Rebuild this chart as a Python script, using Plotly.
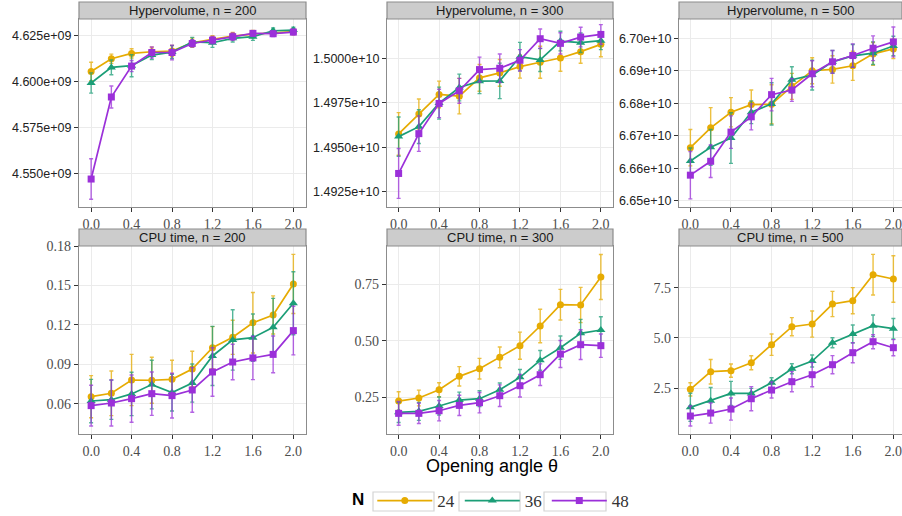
import plotly.graph_objects as go

theta = [0.0, 0.2, 0.4, 0.6, 0.8, 1.0, 1.2, 1.4, 1.6, 1.8, 2.0]
groups = ["24", "36", "48"]

# Hypervolume, n = 200
hv200_24 = [4.6056e9, 4.6125e9, 4.6154e9, 4.6163e9, 4.6167e9, 4.6212e9, 4.6230e9, 4.6248e9, 4.6259e9, 4.6265e9, 4.6272e9]
hv200_36 = [4.5993e9, 4.6078e9, 4.6087e9, 4.6145e9, 4.6161e9, 4.6216e9, 4.6212e9, 4.6236e9, 4.6245e9, 4.6277e9, 4.6281e9]
hv200_48 = [4.5471e9, 4.5917e9, 4.6085e9, 4.6159e9, 4.6159e9, 4.6208e9, 4.6226e9, 4.6245e9, 4.6263e9, 4.6261e9, 4.6270e9]
hv200_24_err = [0.0050e9, 0.0025e9, 0.0025e9, 0.0025e9, 0.0030e9, 0.0025e9, 0.0020e9, 0.0020e9, 0.0020e9, 0.0015e9, 0.0015e9]
hv200_36_err = [0.0055e9, 0.0040e9, 0.0060e9, 0.0025e9, 0.0035e9, 0.0025e9, 0.0025e9, 0.0020e9, 0.0020e9, 0.0015e9, 0.0015e9]
hv200_48_err = [0.0110e9, 0.0060e9, 0.0030e9, 0.0030e9, 0.0040e9, 0.0020e9, 0.0020e9, 0.0020e9, 0.0015e9, 0.0015e9, 0.0015e9]

# Hypervolume, n = 300
hv300_24 = [1.495746e10, 1.496866e10, 1.497966e10, 1.497873e10, 1.498899e10, 1.499179e10, 1.499534e10, 1.499776e10, 1.500019e10, 1.500373e10, 1.500784e10]
hv300_36 = [1.495597e10, 1.496157e10, 1.497481e10, 1.498358e10, 1.498713e10, 1.498731e10, 1.500093e10, 1.499907e10, 1.500970e10, 1.500877e10, 1.500989e10]
hv300_48 = [1.493526e10, 1.495765e10, 1.497463e10, 1.498172e10, 1.499366e10, 1.499440e10, 1.499888e10, 1.501101e10, 1.500840e10, 1.501194e10, 1.501343e10]
hv300_24_err = [0.00120e10, 0.00085e10, 0.00075e10, 0.00100e10, 0.00075e10, 0.00075e10, 0.00065e10, 0.00090e10, 0.00075e10, 0.00065e10, 0.00070e10]
hv300_36_err = [0.00110e10, 0.00095e10, 0.00090e10, 0.00075e10, 0.00070e10, 0.00100e10, 0.00080e10, 0.00065e10, 0.00055e10, 0.00055e10, 0.00050e10]
hv300_48_err = [0.00140e10, 0.00100e10, 0.00080e10, 0.00070e10, 0.00070e10, 0.00080e10, 0.00060e10, 0.00055e10, 0.00060e10, 0.00055e10, 0.00055e10]

# Hypervolume, n = 500
hv500_24 = [6.66633e10, 6.67245e10, 6.67724e10, 6.67959e10, 6.67969e10, 6.68520e10, 6.69000e10, 6.69041e10, 6.69153e10, 6.69520e10, 6.69673e10]
hv500_36 = [6.66224e10, 6.66643e10, 6.66929e10, 6.67724e10, 6.67980e10, 6.68724e10, 6.68867e10, 6.69276e10, 6.69459e10, 6.69541e10, 6.69765e10]
hv500_48 = [6.65786e10, 6.66214e10, 6.67112e10, 6.67582e10, 6.68265e10, 6.68408e10, 6.68908e10, 6.69276e10, 6.69469e10, 6.69694e10, 6.69888e10]
hv500_24_err = [0.0056e10, 0.0062e10, 0.0045e10, 0.0045e10, 0.0060e10, 0.0040e10, 0.0040e10, 0.0042e10, 0.0045e10, 0.0035e10, 0.0030e10]
hv500_36_err = [0.0040e10, 0.0055e10, 0.0078e10, 0.0035e10, 0.0065e10, 0.0040e10, 0.0046e10, 0.0035e10, 0.0035e10, 0.0035e10, 0.0030e10]
hv500_48_err = [0.0073e10, 0.0050e10, 0.0050e10, 0.0040e10, 0.0050e10, 0.0035e10, 0.0040e10, 0.0035e10, 0.0036e10, 0.0038e10, 0.0046e10]

# CPU time, n = 200
cpu200_24 = [0.0653, 0.0679, 0.0780, 0.0778, 0.0785, 0.0864, 0.1026, 0.1105, 0.1216, 0.1275, 0.1511]
cpu200_36 = [0.0620, 0.0630, 0.0674, 0.0745, 0.0684, 0.0757, 0.0963, 0.1085, 0.1102, 0.1181, 0.1364]
cpu200_48 = [0.0585, 0.0605, 0.0638, 0.0676, 0.0661, 0.0704, 0.0841, 0.0917, 0.0948, 0.0975, 0.1156]
cpu200_24_err = [0.0160, 0.0170, 0.0195, 0.0175, 0.0145, 0.0135, 0.0160, 0.0130, 0.0230, 0.0145, 0.0225]
cpu200_36_err = [0.0165, 0.0150, 0.0165, 0.0185, 0.0140, 0.0145, 0.0225, 0.0230, 0.0180, 0.0220, 0.0240]
cpu200_48_err = [0.0155, 0.0175, 0.0180, 0.0165, 0.0170, 0.0170, 0.0185, 0.0135, 0.0165, 0.0140, 0.0185]

# CPU time, n = 300
cpu300_24 = [0.2322, 0.2456, 0.2825, 0.3417, 0.3757, 0.4260, 0.4778, 0.5651, 0.6598, 0.6583, 0.7825]
cpu300_36 = [0.1820, 0.1864, 0.2101, 0.2367, 0.2426, 0.2825, 0.3373, 0.4127, 0.4689, 0.5325, 0.5473]
cpu300_48 = [0.1775, 0.1775, 0.1893, 0.2130, 0.2249, 0.2559, 0.3003, 0.3491, 0.4408, 0.4822, 0.4778]
cpu300_24_err = [0.041, 0.035, 0.031, 0.043, 0.046, 0.046, 0.060, 0.074, 0.068, 0.078, 0.100]
cpu300_36_err = [0.045, 0.040, 0.040, 0.035, 0.035, 0.030, 0.035, 0.044, 0.052, 0.062, 0.059]
cpu300_48_err = [0.053, 0.045, 0.045, 0.045, 0.045, 0.048, 0.050, 0.048, 0.060, 0.066, 0.052]

# CPU time, n = 500
cpu500_24 = [2.434, 3.314, 3.364, 3.762, 4.659, 5.556, 5.689, 6.686, 6.852, 8.148, 7.932]
cpu500_36 = [1.537, 1.869, 2.234, 2.234, 2.766, 3.463, 3.845, 4.759, 5.191, 5.606, 5.457]
cpu500_48 = [1.105, 1.254, 1.453, 1.968, 2.400, 2.816, 3.164, 3.663, 4.261, 4.809, 4.510]
cpu500_24_err = [0.33, 0.61, 0.33, 0.35, 0.53, 0.45, 0.65, 0.63, 0.65, 1.01, 1.16]
cpu500_36_err = [0.70, 0.66, 0.60, 0.25, 0.25, 0.25, 0.30, 0.25, 0.45, 0.53, 0.51]
cpu500_48_err = [0.50, 0.50, 0.55, 0.60, 0.40, 0.50, 0.60, 0.45, 0.50, 0.35, 0.40]

x_tickvals = [0.0, 0.4, 0.8, 1.2, 1.6, 2.0]
x_ticktext = ["0.0", "0.4", "0.8", "1.2", "1.6", "2.0"]
hv200_ticks = [4.550e9, 4.575e9, 4.600e9, 4.625e9]
hv200_ticktext = ["4.550e+09", "4.575e+09", "4.600e+09", "4.625e+09"]
hv300_ticks = [1.4925e10, 1.4950e10, 1.4975e10, 1.5000e10]
hv300_ticktext = ["1.4925e+10", "1.4950e+10", "1.4975e+10", "1.5000e+10"]
hv500_ticks = [6.65e10, 6.66e10, 6.67e10, 6.68e10, 6.69e10, 6.70e10]
hv500_ticktext = ["6.65e+10", "6.66e+10", "6.67e+10", "6.68e+10", "6.69e+10", "6.70e+10"]
cpu200_ticks = [0.06, 0.09, 0.12, 0.15, 0.18]
cpu200_ticktext = ["0.06", "0.09", "0.12", "0.15", "0.18"]
cpu300_ticks = [0.25, 0.50, 0.75]
cpu300_ticktext = ["0.25", "0.50", "0.75"]
cpu500_ticks = [2.5, 5.0, 7.5]
cpu500_ticktext = ["2.5", "5.0", "7.5"]

strip_titles = ["Hypervolume, n = 200", "Hypervolume, n = 300", "Hypervolume, n = 500",
                "CPU time, n = 200", "CPU time, n = 300", "CPU time, n = 500"]

colors = {"24": "#E6AB02", "36": "#1B9E77", "48": "#9B30D9"}
err_colors = {"24": "rgba(230,171,2,0.75)", "36": "rgba(27,158,119,0.75)", "48": "rgba(155,48,217,0.75)"}
symbols = {"24": "circle", "36": "triangle-up", "48": "square"}
msizes = {"24": 7, "36": 8, "48": 7}

W, H = 902, 516
def px_x(p):
    return p / W
def px_y(p):
    return 1 - p / H

col_px = [(79, 306), (387, 613), (679, 902)]
row_px = [(19, 207), (246, 434)]
strip_px = [(2, 19), (229, 246)]
legend_box_px = [(373, 434), (459, 520), (544, 606)]

panels = [
    (hv200_24, hv200_36, hv200_48, hv200_24_err, hv200_36_err, hv200_48_err, hv200_ticks, hv200_ticktext, [4.5319e9, 4.6341e9]),
    (hv300_24, hv300_36, hv300_48, hv300_24_err, hv300_36_err, hv300_48_err, hv300_ticks, hv300_ticktext, [1.49164e10, 1.50221e10]),
    (hv500_24, hv500_36, hv500_48, hv500_24_err, hv500_36_err, hv500_48_err, hv500_ticks, hv500_ticktext, [6.64806e10, 6.70594e10]),
    (cpu200_24, cpu200_36, cpu200_48, cpu200_24_err, cpu200_36_err, cpu200_48_err, cpu200_ticks, cpu200_ticktext, [0.0369, 0.1800]),
    (cpu300_24, cpu300_36, cpu300_48, cpu300_24_err, cpu300_36_err, cpu300_48_err, cpu300_ticks, cpu300_ticktext, [0.086, 0.920]),
    (cpu500_24, cpu500_36, cpu500_48, cpu500_24_err, cpu500_36_err, cpu500_48_err, cpu500_ticks, cpu500_ticktext, [0.21, 9.577]),
]
x_ranges = [[-0.12, 2.125], [-0.115, 2.12], [-0.112, 2.085]]

fig = go.Figure()
layout = {}
shapes = []
annotations = []
serif = "Liberation Serif, DejaVu Serif, serif"
sans = "Liberation Sans, Arial, sans-serif"

for i, p in enumerate(panels):
    r, c = divmod(i, 3)
    idx = i + 1
    xa = "xaxis" if idx == 1 else f"xaxis{idx}"
    ya = "yaxis" if idx == 1 else f"yaxis{idx}"
    xref = "x" if idx == 1 else f"x{idx}"
    yref = "y" if idx == 1 else f"y{idx}"
    ys = p[0:3]
    errs = p[3:6]
    for g, yv, ev in zip(groups, ys, errs):
        fig.add_trace(go.Scatter(
            x=theta, y=yv, xaxis=xref, yaxis=yref, mode="lines+markers",
            name=g, legendgroup=g, showlegend=(i == 0),
            line=dict(color=colors[g], width=1.7),
            marker=dict(color=colors[g], symbol=symbols[g], size=msizes[g]),
            error_y=dict(type="data", array=ev, visible=True, color=err_colors[g], thickness=1.4, width=2),
        ))
    x0, x1 = col_px[c]
    y0, y1 = row_px[r]
    layout[xa] = dict(
        domain=[px_x(x0), px_x(x1)], range=x_ranges[c], anchor=yref,
        tickvals=x_tickvals, ticktext=x_ticktext, ticks="outside", ticklen=4, tickcolor="#333333",
        tickfont=dict(family=serif, size=14, color="#4D4D4D"), ticklabeloverflow="allow",
        showgrid=True, gridcolor="#EBEBEB", gridwidth=1, zeroline=False,
        showline=True, linecolor="#8C8C8C", linewidth=1.2, mirror=True,
    )
    ytickfont = dict(family=sans, size=12.5, color="#222222") if r == 0 else dict(family=serif, size=14, color="#4D4D4D")
    layout[ya] = dict(
        domain=[px_y(y1), px_y(y0)], range=p[8], anchor=xref,
        tickvals=p[6], ticktext=p[7], ticks="outside", ticklen=4, tickcolor="#333333",
        tickfont=ytickfont, ticklabeloverflow="allow",
        showgrid=True, gridcolor="#EBEBEB", gridwidth=1, zeroline=False,
        showline=True, linecolor="#8C8C8C", linewidth=1.2, mirror=True,
    )
    s0, s1 = strip_px[r]
    shapes.append(dict(type="rect", xref="paper", yref="paper",
                       x0=px_x(x0), x1=px_x(x1), y0=px_y(s1), y1=px_y(s0),
                       fillcolor="#CCCCCC", line=dict(color="#8C8C8C", width=1.2), layer="above"))
    annotations.append(dict(text=strip_titles[i], xref="paper", yref="paper",
                            x=(px_x(x0) + px_x(x1)) / 2, y=px_y((s0 + s1) / 2),
                            xanchor="center", yanchor="middle", showarrow=False,
                            font=dict(family=sans, size=13, color="#1A1A1A")))

# legend key boxes
for bx0, bx1 in legend_box_px:
    shapes.append(dict(type="rect", xref="paper", yref="paper",
                       x0=px_x(bx0), x1=px_x(bx1), y0=px_y(511), y1=px_y(492),
                       fillcolor="rgba(0,0,0,0)", line=dict(color="#D4D4D4", width=1.2), layer="below"))

annotations.append(dict(text="Opening angle θ", xref="paper", yref="paper",
                        x=px_x(492), y=px_y(466), xanchor="center", yanchor="middle",
                        showarrow=False, font=dict(family=sans, size=18, color="#000000")))

fig.update_layout(
    width=W, height=H, margin=dict(l=0, r=0, t=0, b=0, autoexpand=False),
    paper_bgcolor="white", plot_bgcolor="white",
    shapes=shapes, annotations=annotations,
    legend=dict(orientation="h", x=px_x(350), y=px_y(501), xanchor="left", yanchor="middle",
                title=dict(text="<b>N</b>", font=dict(family=sans, size=17, color="#000000")),
                font=dict(family=serif, size=17, color="#333333"),
                itemwidth=55, bgcolor="rgba(0,0,0,0)"),
    **layout,
)

fig.write_html("out.html", config={"displayModeBar": False},
               post_script="document.body.style.margin='0px';document.body.style.overflow='hidden';")
